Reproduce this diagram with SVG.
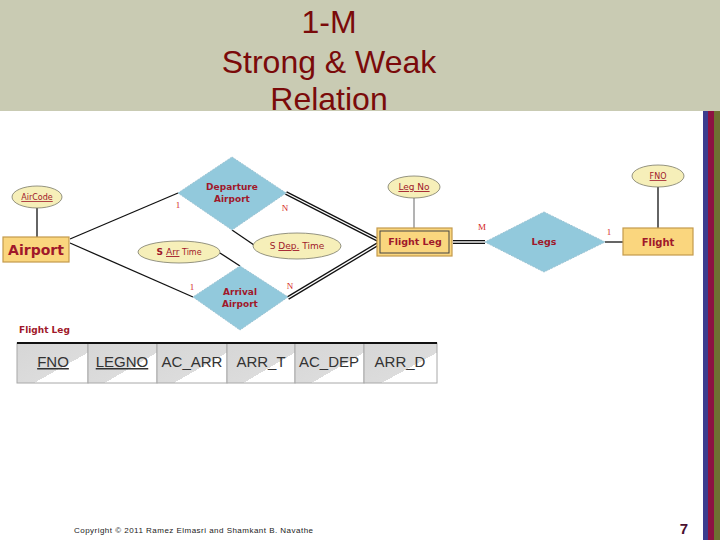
<svg xmlns="http://www.w3.org/2000/svg" width="720" height="540" viewBox="0 0 720 540">
<defs>
<style>
.ent{fill:#fad67e;stroke:#c49a4c;stroke-width:1.2}
.att{fill:#f6efb9;stroke:#7a7a6a;stroke-width:0.8}
.rel{fill:#92c9dc;stroke:#9cc4d4;stroke-width:1;stroke-dasharray:2 1}
.t{font-family:"DejaVu Sans","Liberation Sans",sans-serif;fill:#a0182a;font-weight:bold;text-anchor:middle}
.lbl{font-family:"DejaVu Sans","Liberation Sans",sans-serif;fill:#a0182a;font-weight:bold;text-anchor:start}
.card{font-family:"Liberation Serif",serif;fill:#d42424;font-size:9px;text-anchor:middle}
.ln{stroke:#111;stroke-width:1.3;fill:none}
.dblo{stroke:#111;stroke-width:4;fill:none}
.dbli{stroke:#fff;stroke-width:1.4;fill:none}
.cell{fill:url(#cg);stroke:#a8a8a8;stroke-width:1}
.ct{font-family:"Liberation Sans",Arial,sans-serif;font-size:15px;fill:#333;text-anchor:middle}
.title{font-family:"Liberation Sans",Arial,sans-serif;font-size:32px;fill:#7a0a0a;text-anchor:middle}
</style>
<linearGradient id="cg" x1="0" y1="0" x2="1" y2="1">
<stop offset="0" stop-color="#d6d6d6"/>
<stop offset="0.62" stop-color="#dcdcdc"/>
<stop offset="0.62" stop-color="#ffffff"/>
<stop offset="1" stop-color="#ffffff"/>
</linearGradient>
</defs>
<rect width="720" height="540" fill="#ffffff"/>
<g id="header">
<rect x="0" y="0" width="720" height="111" fill="#c9cbb3"/>
<text class="title" x="329" y="33">1-M</text>
<text class="title" x="329" y="73">Strong &amp; Weak</text>
<text class="title" x="329" y="110">Relation</text>
</g>
<g id="stripes">
<rect x="703" y="111" width="5" height="429" fill="#3c3c8e"/>
<rect x="708" y="111" width="6" height="429" fill="#8c1242"/>
<rect x="714" y="111" width="6" height="429" fill="#6e7032"/>
</g>
<g id="connectors">
<line class="ln" x1="37" y1="208" x2="37" y2="237"/>
<line class="ln" x1="70" y1="239" x2="178" y2="193"/>
<line class="ln" x1="70" y1="243" x2="193" y2="297"/>
<line class="ln" x1="232" y1="230" x2="254" y2="245"/>
<line class="ln" x1="220" y1="253" x2="240" y2="266"/>
<line class="dblo" x1="286" y1="193" x2="378" y2="240"/>
<line class="dbli" x1="286" y1="193" x2="378" y2="240"/>
<line class="dblo" x1="288" y1="298" x2="378" y2="244"/>
<line class="dbli" x1="288" y1="298" x2="378" y2="244"/>
<line stroke="#8a8a8a" stroke-width="1.3" x1="414" y1="198" x2="414" y2="228"/>
<line class="dblo" x1="453" y1="242" x2="485" y2="242"/>
<line class="dbli" x1="453" y1="242" x2="485" y2="242"/>
<line class="ln" x1="605" y1="242" x2="623" y2="242"/>
<line class="ln" x1="658" y1="187" x2="658" y2="228"/>
<text class="card" x="178" y="208">1</text>
<text class="card" x="285" y="211">N</text>
<text class="card" x="192" y="290">1</text>
<text class="card" x="290" y="289">N</text>
<text class="card" x="482" y="230">M</text>
<text class="card" x="609" y="235">1</text>
</g>
<g id="aircode">
<ellipse class="att" cx="37" cy="197" rx="25" ry="11"/>
<text class="t" x="37" y="200" font-size="8" style="font-weight:normal" text-decoration="underline">AirCode</text>
</g>
<g id="airport">
<rect class="ent" x="3" y="237" width="66" height="25"/>
<text class="t" x="36" y="255" font-size="14">Airport</text>
</g>
<g id="departure">
<polygon class="rel" points="232,157 286,193 232,230 178,193"/>
<text class="t" x="232" y="190" font-size="9">Departure</text>
<text class="t" x="232" y="202" font-size="9">Airport</text>
</g>
<g id="arrival">
<polygon class="rel" points="240,266 288,297 240,330 193,297"/>
<text class="t" x="240" y="295" font-size="9">Arrival</text>
<text class="t" x="240" y="307" font-size="9">Airport</text>
</g>
<g id="sarrtime">
<ellipse class="att" cx="179" cy="252" rx="41" ry="11"/>
<text class="t" x="179" y="255" font-size="9">S <tspan text-decoration="underline" style="font-weight:normal">Arr</tspan><tspan style="font-weight:normal" font-size="8"> Time</tspan></text>
</g>
<g id="sdeptime">
<ellipse class="att" cx="297" cy="246" rx="44" ry="13"/>
<text class="t" x="297" y="249" font-size="9" style="font-weight:normal">S <tspan text-decoration="underline">Dep.</tspan> Time</text>
</g>
<g id="legno">
<ellipse class="att" cx="414" cy="187" rx="26" ry="11"/>
<text class="t" x="414" y="190" font-size="9" style="font-weight:normal" text-decoration="underline">Leg No</text>
</g>
<g id="flightleg">
<rect class="ent" x="377" y="228" width="75" height="28"/>
<rect x="380" y="231" width="69" height="22" fill="none" stroke="#444" stroke-width="1"/>
<text class="t" x="415" y="245" font-size="9.5">Flight Leg</text>
</g>
<g id="legs">
<polygon class="rel" points="544,212 605,242 544,272 485,242"/>
<text class="t" x="544" y="245" font-size="9.5">Legs</text>
</g>
<g id="fno">
<ellipse class="att" cx="658" cy="176" rx="26" ry="11"/>
<text class="t" x="658" y="179" font-size="8" style="font-weight:normal" text-decoration="underline">FNO</text>
</g>
<g id="flight">
<rect class="ent" x="623" y="228" width="70" height="27"/>
<text class="t" x="658" y="246" font-size="10">Flight</text>
</g>
<g id="table">
<text class="lbl" x="19" y="333" font-size="9">Flight Leg</text>
<rect class="cell" x="17" y="343" width="71" height="40"/>
<rect class="cell" x="88" y="343" width="69" height="40"/>
<rect class="cell" x="157" y="343" width="70" height="40"/>
<rect class="cell" x="227" y="343" width="68" height="40"/>
<rect class="cell" x="295" y="343" width="69" height="40"/>
<rect class="cell" x="364" y="343" width="73" height="40"/>
<line x1="17" y1="343" x2="437" y2="343" stroke="#111" stroke-width="2"/>
<text class="ct" x="53" y="367" text-decoration="underline">FNO</text>
<text class="ct" x="122" y="367" text-decoration="underline">LEGNO</text>
<text class="ct" x="192" y="367">AC_ARR</text>
<text class="ct" x="261" y="367">ARR_T</text>
<text class="ct" x="329" y="367">AC_DEP</text>
<text class="ct" x="400" y="367">ARR_D</text>
</g>
<g id="footer">
<text x="74" y="533" font-family="Liberation Sans, Arial, sans-serif" font-size="8" fill="#222" textLength="239" lengthAdjust="spacing">Copyright © 2011 Ramez Elmasri and Shamkant B. Navathe</text>
<text x="684" y="534" font-family="Liberation Sans, Arial, sans-serif" font-size="15" font-weight="bold" fill="#4a1030" text-anchor="middle">7</text>
</g>
</svg>
